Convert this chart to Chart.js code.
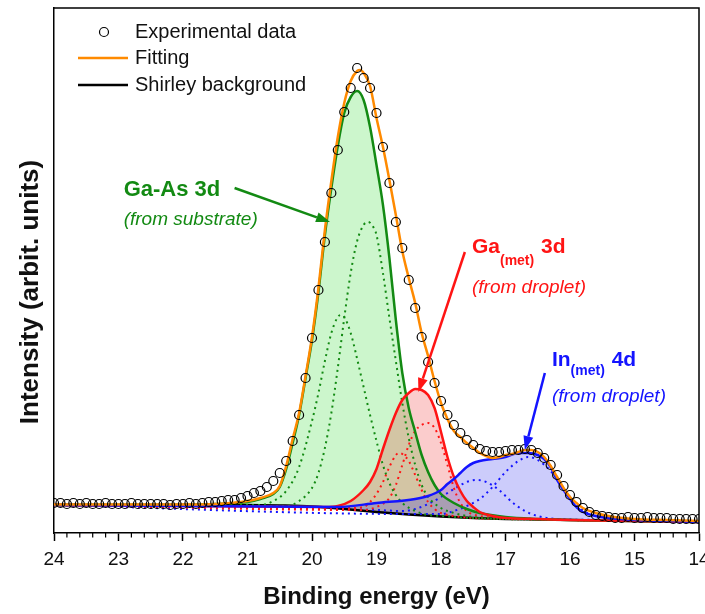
<!DOCTYPE html>
<html>
<head>
<meta charset="utf-8">
<script src="https://cdn.jsdelivr.net/npm/chart.js@4.4.1/dist/chart.umd.min.js"></script>
<style>
  html, body { margin: 0; padding: 0; background: #fff; }
  canvas { display: block; }
</style>
</head>
<body>
<canvas id="xps" width="705" height="614"></canvas>
<script>
// XPS Ga 3d / In 4d region, binding energy in eV, intensity in arbitrary units

const expE = [24.0,23.9,23.8,23.7,23.6,23.5,23.4,23.3,23.2,23.1,23.0,22.9,22.8,22.7,22.6,22.5,22.4,22.3,22.2,22.1,22.0,
  21.9,21.8,21.7,21.6,21.5,21.4,21.3,21.2,21.1,21.0,20.9,20.8,20.7,20.6,20.5,20.4,20.3,20.2,20.1,20.0,
  19.9,19.8,19.7,19.6,19.5,19.4,19.3,19.2,19.1,19.0,18.9,18.8,18.7,18.6,18.5,18.4,18.3,18.2,18.1,18.0,
  17.9,17.8,17.7,17.6,17.5,17.4,17.3,17.2,17.1,17.0,16.9,16.8,16.7,16.6,16.5,16.4,16.3,16.2,16.1,16.0,
  15.9,15.8,15.7,15.6,15.5,15.4,15.3,15.2,15.1,15.0,14.9,14.8,14.7,14.6,14.5,14.4,14.3,14.2,14.1,14.0];
const expI = [30,30,29,30,29,30,29,29,30,29,29,29,30,29,29,29,29,29,28,29,29,
  30,29,30,31,31,32,33,33,35,37,40,42,46,52,60,72,92,118,155,195,
  243,291,340,383,421,445,465,455,445,420,386,350,311,285,253,225,196,171,150,132,
  118,108,100,93,88,84,82,81,81,82,83,83,84,83,80,75,68,58,47,38,
  31,25,21,18,17,16,15,15,16,15,15,16,15,15,15,14,14,14,14,14];

const fitE = [24,22,21.5,21,20.8,20.6,20.5,20.4,20.3,20.2,20.1,20.0,19.9,19.8,19.7,19.6,19.5,19.4,19.3,19.25,19.2,19.1,19.0,
  18.9,18.8,18.7,18.6,18.5,18.4,18.3,18.2,18.1,18.0,17.9,17.8,17.7,17.6,17.5,17.4,17.3,17.2,17.1,17.0,
  16.9,16.8,16.7,16.6,16.5,16.4,16.3,16.2,16.1,16.0,15.9,15.8,15.6,15.4,15.0,14.5,14.0];
const fitI = [28.5,28.5,29,32,35,40,47,67,94,120,157,196,245,303,352,396,430,452,462,463,460,447,415,
  386,353,318,282,255,230,200,177,152,130,114,102,96,90,85,80,77,75,76,78,
  79,81,83,83,81,76,67,56,45,36,30,25,20,17,14,13,12];

const shirleyE = [24,21,20.5,20,19.5,19,18.5,18,17.5,17,16.5,16,15,14];
const shirleyI = [28,28,27.5,26.5,24,21,18.5,16.5,15,14,13.5,13,12,11];

// Ga-As 3d envelope and its two components
const gaAsE = [24,22,21.5,21,20.8,20.6,20.5,20.4,20.3,20.2,20.1,20.0,19.9,19.8,19.7,19.6,19.5,19.4,19.3,19.2,19.1,19.0,
  18.9,18.8,18.7,18.6,18.5,18.4,18.3,18.2,18.1,18.0,17.8,17.6,17.4,17.0,16.5,16,15,14];
const gaAsI = [28,28,29,31,34,39,46,64,90,118,155,193,241,298,345,387,420,436,442,433,406,368,
  328,275,213,160,125,101,78,61,48,39,30,24,20,16,14,13,12,11];
const gaAs52E = [24,20.4,20.2,20.0,19.9,19.8,19.7,19.6,19.5,19.4,19.3,19.2,19.13,19.05,19.0,18.9,18.8,18.7,18.6,18.5,18.4,18.3,18.2,18.0,17.8,17.5,17,16.5,16,15,14];
const gaAs52I = [28,27,32,45,60,85,120,165,215,260,292,308,311,306,298,260,215,172,130,95,68,48,36,25,20,16,14,13.5,13,12,11];
const gaAs32E = [24,20.8,20.6,20.4,20.2,20.0,19.9,19.8,19.7,19.6,19.55,19.5,19.4,19.3,19.2,19.1,19.0,18.9,18.8,18.7,18.6,18.4,18.2,18.0,17.5,17,16.5,16,15,14];
const gaAs32I = [28,28,32,42,66,112,140,172,200,216,218,216,200,174,146,118,92,68,50,38,30,22,18,17,15,14,13.5,13,12,11];

// Ga(met) 3d envelope and components
const gaMetE = [24,19.8,19.6,19.4,19.2,19.1,19.0,18.9,18.8,18.7,18.6,18.5,18.4,18.3,18.2,18.1,18.0,17.9,17.8,17.7,17.6,17.5,17.4,17.2,17.0,16.5,16,15,14];
const gaMetI = [28,26,27,32,43,51,64,84,103,120,133,140,144,143,138,125,101,76,56,42,32,26,21,17,15,14,13,12,11];
const gaMet52E = [24,19.2,19.0,18.8,18.7,18.6,18.5,18.4,18.3,18.2,18.1,18.0,17.9,17.8,17.7,17.6,17.4,17.0,16.5,16,15,14];
const gaMet52I = [28,23,26,35,48,68,88,102,108,110,105,90,68,45,30,22,17,15,14,13,12,11];
const gaMet32E = [24,19.4,19.2,19.1,19.0,18.9,18.8,18.7,18.65,18.6,18.5,18.4,18.3,18.2,18.1,18.0,17.8,17.5,17,16.5,16,15,14];
const gaMet32I = [28,25,26,31,39,51,66,78,80,79,72,58,43,31,24,20,17,15,14,13.5,13,12,11];

// In(met) 4d envelope and components
const inE = [24,19.6,19.0,18.4,18.2,18.0,17.9,17.8,17.7,17.6,17.5,17.4,17.2,17.0,16.8,16.65,16.5,16.4,16.3,16.2,16.1,16.0,15.9,15.8,15.6,15.4,15.0,14.5,14];
const inI = [28,26,30,34,37,43,49,54,60,66,70,72,74,76,80,80,78,74,66,53,43,34,26,21,17,15,13,12,11];
const in32E = [24,19.0,18.6,18.4,18.2,18.0,17.8,17.6,17.45,17.3,17.1,16.9,16.7,16.5,16.2,15.5,15,14];
const in32I = [28,23,22,24,29,36,44,51,53,51,43,31,22,17,14,13,12,11];
const in52E = [24,18.5,18.0,17.8,17.6,17.4,17.2,17.0,16.8,16.65,16.5,16.3,16.1,16.0,15.9,15.7,15.5,15.2,15,14];
const in52I = [28,19,19,22,27,34,46,61,72,76,73,62,45,36,28,19,15,13,12,11];

const xTicks = [24,23,22,21,20,19,18,17,16,15,14];

const GREEN = '#138a13', RED = '#ff1414', BLUE = '#1414ff', ORANGE = '#ff8a00';
const FONT = "'Liberation Sans', Arial, sans-serif";

const pts = (xs, ys) => xs.map((x, i) => ({ x, y: ys[i] }));

function line(data, color, order, extra) {
  return Object.assign({
    data, borderColor: color, borderWidth: 2.5, pointRadius: 0,
    cubicInterpolationMode: 'monotone', fill: false, order
  }, extra || {});
}
function dotted(data, color) {
  return line(data, color, 12, { borderWidth: 2, borderDash: [2, 4] });
}

// annotations: text + arrows, placed in data coordinates
const notes = [
  { color: GREEN, parts: [['Ga-As 3d', 22]], at: [22.92, 337], sub: '(from substrate)', subAt: [22.92, 308],
    arrow: [[21.2, 345], [19.72, 311]] },
  { color: RED, parts: [['Ga', 21], ['(met)', 14, 12], [' 3d', 21]], at: [17.52, 280], sub: '(from droplet)', subAt: [17.52, 240],
    arrow: [[17.63, 281], [18.35, 141]] },
  { color: BLUE, parts: [['In', 21], ['(met)', 14, 9], [' 4d', 21]], at: [16.28, 167], sub: '(from droplet)', subAt: [16.28, 131],
    arrow: [[16.39, 160], [16.7, 83]] }
];

function arrow(ctx, x1, y1, x2, y2, color) {
  const a = Math.atan2(y2 - y1, x2 - x1), L = 14, W = 5;
  const bx = x2 - L * Math.cos(a), by = y2 - L * Math.sin(a);
  ctx.strokeStyle = color; ctx.fillStyle = color; ctx.lineWidth = 2.5;
  ctx.beginPath(); ctx.moveTo(x1, y1); ctx.lineTo(bx, by); ctx.stroke();
  ctx.beginPath();
  ctx.moveTo(x2, y2);
  ctx.lineTo(bx + W * Math.sin(a), by - W * Math.cos(a));
  ctx.lineTo(bx - W * Math.sin(a), by + W * Math.cos(a));
  ctx.closePath(); ctx.fill();
}

const extras = {
  id: 'extras',
  afterDraw(chart) {
    const { ctx, chartArea: ca, scales: { x, y } } = chart;
    ctx.save();
    // frame top + right
    ctx.strokeStyle = '#000'; ctx.lineWidth = 1.5;
    ctx.beginPath();
    ctx.moveTo(ca.left, ca.top); ctx.lineTo(ca.right, ca.top); ctx.lineTo(ca.right, ca.bottom);
    ctx.stroke();
    // minor ticks every 0.2 eV
    ctx.lineWidth = 1.2;
    for (let v = 14.2; v < 24; v += 0.2) {
      if (Math.abs(v - Math.round(v)) < 0.01) continue;
      const px = x.getPixelForValue(v);
      ctx.beginPath(); ctx.moveTo(px, ca.bottom); ctx.lineTo(px, ca.bottom + 4.5); ctx.stroke();
    }
    // y title sits a bit below the middle of the axis in the original
    ctx.save();
    ctx.translate(31, 292); ctx.rotate(-Math.PI / 2);
    ctx.font = 'bold 26px ' + FONT; ctx.fillStyle = '#111';
    ctx.textAlign = 'center'; ctx.textBaseline = 'middle';
    ctx.fillText('Intensity (arbit. units)', 0, 0);
    ctx.restore();
    // legend
    ctx.font = '20px ' + FONT; ctx.fillStyle = '#111'; ctx.textBaseline = 'middle'; ctx.textAlign = 'left';
    ctx.lineWidth = 1.2; ctx.strokeStyle = '#000';
    ctx.beginPath(); ctx.arc(104, 32, 4.5, 0, Math.PI * 2); ctx.stroke();
    ctx.fillText('Experimental data', 135, 32);
    ctx.lineWidth = 2.5; ctx.strokeStyle = ORANGE;
    ctx.beginPath(); ctx.moveTo(78, 58); ctx.lineTo(128, 58); ctx.stroke();
    ctx.fillText('Fitting', 135, 58);
    ctx.strokeStyle = '#000';
    ctx.beginPath(); ctx.moveTo(78, 85); ctx.lineTo(128, 85); ctx.stroke();
    ctx.fillText('Shirley background', 135, 85);
    // peak labels
    ctx.textBaseline = 'alphabetic';
    notes.forEach(n => {
      ctx.fillStyle = n.color;
      let px = x.getPixelForValue(n.at[0]);
      const py = y.getPixelForValue(n.at[1]);
      n.parts.forEach(([t, size, drop]) => {
        ctx.font = 'bold ' + size + 'px ' + FONT;
        ctx.fillText(t, px, py + (drop || 0));
        px += ctx.measureText(t).width + (drop ? 1 : 0);
      });
      ctx.font = 'italic 19px ' + FONT;
      ctx.fillText(n.sub, x.getPixelForValue(n.subAt[0]), y.getPixelForValue(n.subAt[1]));
      const [[e1, i1], [e2, i2]] = n.arrow;
      arrow(ctx, x.getPixelForValue(e1), y.getPixelForValue(i1), x.getPixelForValue(e2), y.getPixelForValue(i2), n.color);
    });
    ctx.restore();
  }
};

new Chart(document.getElementById('xps'), {
  type: 'line',
  data: {
    datasets: [
      line(pts(shirleyE, shirleyI), '#000', 13),
      dotted(pts(gaAs52E, gaAs52I), GREEN),
      dotted(pts(gaAs32E, gaAs32I), GREEN),
      dotted(pts(gaMet52E, gaMet52I), RED),
      dotted(pts(gaMet32E, gaMet32I), RED),
      dotted(pts(in32E, in32I), BLUE),
      dotted(pts(in52E, in52I), BLUE),
      line(pts(gaAsE, gaAsI), GREEN, 10, { fill: { target: 0 }, backgroundColor: 'rgba(0,210,0,0.2)' }),
      line(pts(gaMetE, gaMetI), RED, 9, { fill: { target: 0 }, backgroundColor: 'rgba(235,0,0,0.2)' }),
      line(pts(inE, inI), BLUE, 8, { fill: { target: 0 }, backgroundColor: 'rgba(0,0,235,0.2)' }),
      line(pts(fitE, fitI), ORANGE, 3),
      { data: pts(expE, expI), showLine: false, order: 1, pointRadius: 4.5, pointBorderWidth: 1.2,
        pointBorderColor: '#000', pointBackgroundColor: 'rgba(0,0,0,0)' }
    ]
  },
  options: {
    responsive: false, animation: false, devicePixelRatio: 1,
    layout: { padding: { top: 8, right: 6 }, autoPadding: false },
    plugins: { legend: { display: false }, tooltip: { enabled: false }, filler: { drawTime: 'beforeDatasetsDraw' } },
    scales: {
      x: {
        type: 'linear', reverse: true, min: 14, max: 24,
        afterBuildTicks: s => { s.ticks = xTicks.map(v => ({ value: v })); },
        afterFit: s => { s.height = 81; s.paddingLeft = 0; s.paddingRight = 0; },
        ticks: { color: '#111', padding: 7, font: { family: FONT, size: 19 }, callback: v => v },
        grid: { drawOnChartArea: false, drawTicks: true, tickLength: 8, tickWidth: 1.5, tickColor: '#000' },
        border: { display: true, color: '#000', width: 1.5 },
        title: { display: true, text: 'Binding energy (eV)', color: '#111', padding: { top: 0, bottom: 2 },
          font: { family: FONT, size: 24, weight: 'bold' } }
      },
      y: {
        min: 0, max: 525,
        afterFit: s => { s.width = 54; s.paddingTop = 0; s.paddingBottom = 0; },
        ticks: { display: false },
        grid: { drawOnChartArea: false, drawTicks: false },
        border: { display: true, color: '#000', width: 1.5 },
        title: { display: false }
      }
    }
  },
  plugins: [extras]
});
</script>
</body>
</html>
